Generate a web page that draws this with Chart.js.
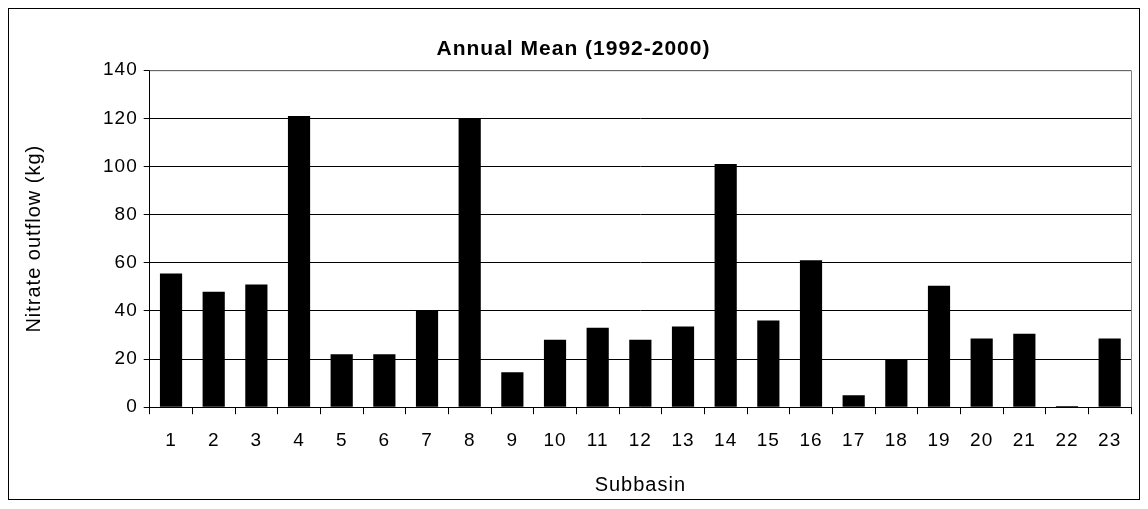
<!DOCTYPE html>
<html><head>
<script src="https://cdn.jsdelivr.net/npm/chart.js@4"></script>
<style>html,body{margin:0;background:#fff}#wrap{width:1148px;height:509px}</style>
</head><body><div id="wrap"><canvas id="c"></canvas></div>
<script>
const subbasins = ['1','2','3','4','5','6','7','8','9','10','11','12','13','14','15','16','17','18','19','20','21','22','23'];
const nitrate = [55.5, 48, 51, 121, 22, 22, 40, 120, 14.5, 28, 33, 28, 33.5, 101, 36, 61, 5, 20, 50.5, 28.5, 30.5, 0.5, 28.5];

const frame = {
  id: 'frame',
  beforeInit(chart) { chart.ctx.letterSpacing = '1px'; },
  beforeDraw(chart) { chart.ctx.letterSpacing = '1px'; },
  afterDraw(chart) {
    const ctx = chart.ctx, a = chart.chartArea;
    ctx.save();
    ctx.strokeStyle = '#000'; ctx.lineWidth = 1;
    ctx.strokeRect(8.5, 8.5, 1131, 491);
    ctx.strokeStyle = '#808080';
    ctx.beginPath();
    ctx.moveTo(a.left, a.top + 0.5); ctx.lineTo(a.right + 0.5, a.top + 0.5);
    ctx.lineTo(a.right + 0.5, a.bottom);
    ctx.stroke();
    ctx.restore();
  }
};

new Chart(document.getElementById('c'), {
  type: 'bar',
  data: { labels: subbasins, datasets: [{ data: nitrate, backgroundColor: '#000', barPercentage: 0.52, categoryPercentage: 1 }] },
  options: {
    responsive: true, maintainAspectRatio: false, animation: false,
    layout: { padding: { left: 16, right: 17, top: 20, bottom: 11 } },
    plugins: {
      legend: { display: false }, tooltip: { enabled: false },
      title: { display: true, text: 'Annual Mean (1992-2000)', color: '#000', font: { family: 'Arial, Liberation Sans', size: 21, weight: 'bold' }, padding: { top: 17, bottom: 8 } }
    },
    scales: {
      x: {
        grid: { offset: true, drawOnChartArea: false, color: '#000', tickLength: 7 },
        border: { color: '#000' },
        ticks: { color: '#000', font: { family: 'Arial, Liberation Sans', size: 19 }, padding: 15 },
        title: { display: true, text: 'Subbasin', color: '#000', font: { family: 'Arial, Liberation Sans', size: 20 }, padding: { top: 6, bottom: 1 } }
      },
      y: {
        min: 0, max: 140,
        grid: { color: '#000', tickLength: 6 },
        border: { color: '#000' },
        ticks: { stepSize: 20, color: '#000', font: { family: 'Arial, Liberation Sans', size: 19 }, padding: 6 },
        title: { display: true, text: 'Nitrate outflow (kg)', color: '#000', font: { family: 'Arial, Liberation Sans', size: 20 }, padding: { top: 6, bottom: 54 } }
      }
    }
  },
  plugins: [frame]
});
</script></body></html>
